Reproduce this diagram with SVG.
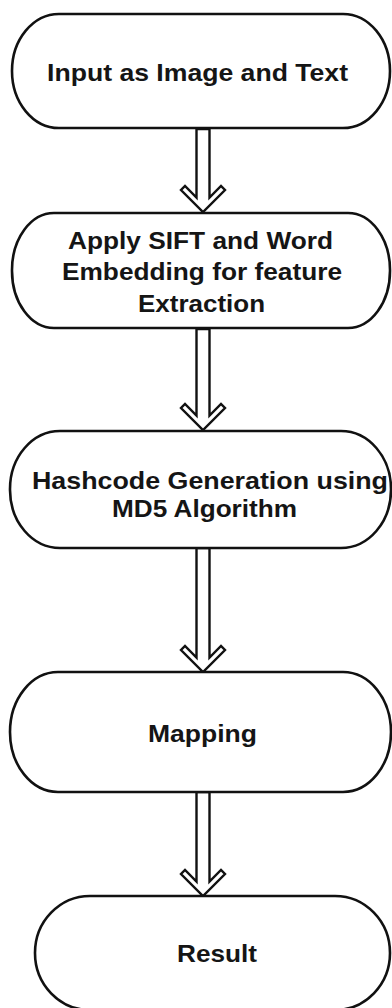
<svg xmlns="http://www.w3.org/2000/svg" width="392" height="1008" viewBox="0 0 392 1008">
<style>
.node{fill:#fff;stroke:#111;stroke-width:2.6}
.lbl{font-family:"Liberation Sans",Arial,sans-serif;font-weight:bold;font-size:24px;fill:#151515;text-anchor:middle}
.arr{fill:#fff;stroke:#111;stroke-width:2.4;stroke-linejoin:miter}
</style>
<rect width="392" height="1008" fill="#fff"/>
<g id="connectors">
<polygon class="arr" points="196.5,129 196.5,197.5 185,186 181,190 203,212 225,190 221,186 209.5,197.5 209.5,129"/>
<polygon class="arr" points="196.5,329 196.5,415.5 185,404 181,408 203,430 225,408 221,404 209.5,415.5 209.5,329"/>
<polygon class="arr" points="196.5,548 196.5,657.5 185,646 181,650 203,672 225,650 221,646 209.5,657.5 209.5,548"/>
<polygon class="arr" points="196.5,792 196.5,881.5 185,870 181,874 203,896 225,874 221,870 209.5,881.5 209.5,792"/>
</g>
<g id="n1">
<rect class="node" x="12" y="14" width="378" height="114" rx="47" ry="57"/>
<text class="lbl" x="197.5" y="81" textLength="301" lengthAdjust="spacingAndGlyphs">Input as Image and Text</text>
</g>
<g id="n2">
<rect class="node" x="12" y="213" width="378" height="115" rx="42" ry="57"/>
<text class="lbl" x="200.5" y="249" textLength="265" lengthAdjust="spacingAndGlyphs">Apply SIFT and Word</text>
<text class="lbl" x="202" y="280" textLength="280" lengthAdjust="spacingAndGlyphs">Embedding for feature</text>
<text class="lbl" x="201.5" y="312" textLength="127" lengthAdjust="spacingAndGlyphs">Extraction</text>
</g>
<g id="n3">
<rect class="node" x="10" y="431" width="381" height="117" rx="50" ry="58"/>
<text class="lbl" x="210" y="489" textLength="356" lengthAdjust="spacingAndGlyphs">Hashcode Generation using</text>
<text class="lbl" x="204.5" y="517" textLength="185" lengthAdjust="spacingAndGlyphs">MD5 Algorithm</text>
</g>
<g id="n4">
<rect class="node" x="10" y="672" width="381" height="120" rx="48" ry="60"/>
<text class="lbl" x="202.5" y="742" textLength="109" lengthAdjust="spacingAndGlyphs">Mapping</text>
</g>
<g id="n5">
<rect class="node" x="35" y="896" width="355" height="114" rx="55" ry="57"/>
<text class="lbl" x="217" y="962" textLength="80" lengthAdjust="spacingAndGlyphs">Result</text>
</g>
</svg>
